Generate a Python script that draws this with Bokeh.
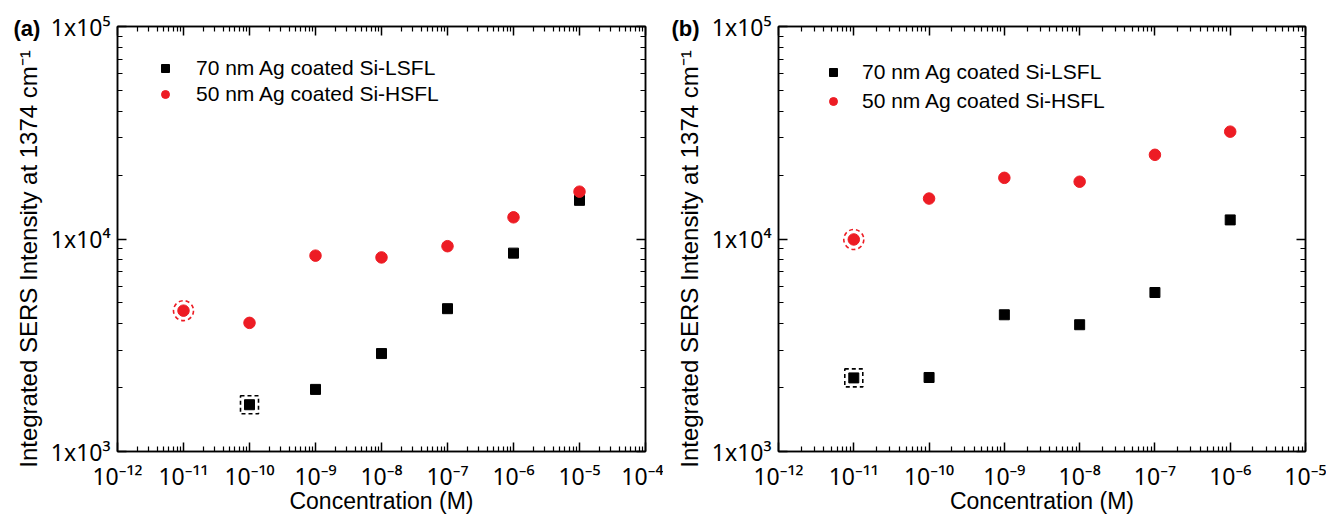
from bokeh.plotting import figure
from bokeh.models import LogAxis, FixedTicker, Legend, LegendItem, Label, Range1d
from bokeh.layouts import row
from bokeh.embed import file_html
from bokeh.resources import INLINE

# ---------------- data ----------------
conc_a_lsfl = [1e-10, 1e-9, 1e-8, 1e-7, 1e-6, 1e-5]
int_a_lsfl = [1660, 1960, 2890, 4700, 8580, 15200]
conc_a_hsfl = [1e-11, 1e-10, 1e-9, 1e-8, 1e-7, 1e-6, 1e-5]
int_a_hsfl = [4600, 4030, 8350, 8190, 9250, 12650, 16700]

conc_b = [1e-11, 1e-10, 1e-9, 1e-8, 1e-7, 1e-6]
int_b_lsfl = [2220, 2230, 4400, 3950, 5600, 12300]
int_b_hsfl = [9950, 15500, 19400, 18600, 24900, 32000]

x_exponents_a = [-12, -11, -10, -9, -8, -7, -6, -5, -4]
x_exponents_b = [-12, -11, -10, -9, -8, -7, -6, -5]
y_exponents = [3, 4, 5]
x_tick_base = "10"
y_tick_base = "1x10"

series_labels = ["70 nm Ag coated Si-LSFL", "50 nm Ag coated Si-HSFL"]
y_axis_title = "Integrated SERS Intensity at 1374 cm\u207b\u00b9" + "\u00a0" * 6
x_axis_title = "Concentration (M)"
panel_tags = ["(a)", "(b)"]

SUP = str.maketrans("-0123456789",
                    "\u207b\u2070\u00b9\u00b2\u00b3\u2074\u2075\u2076\u2077\u2078\u2079")
FONT = "Liberation Sans"
TICK_FONT = "Noto Sans"
RED = "#ED1C24"


def sup(n):
    return str(n).translate(SUP)


def minor_ticks(exps):
    out = []
    for e in exps[:-1]:
        for m in range(2, 10):
            out.append(m * 10.0 ** e)
    return out


def style_axis(ax, show_labels):
    ax.axis_line_width = 1.5
    ax.axis_line_color = "black"
    ax.major_tick_line_color = "black"
    ax.minor_tick_line_color = "black"
    ax.major_tick_line_width = 1.5
    ax.minor_tick_line_width = 1.2
    ax.major_tick_in = 9
    ax.major_tick_out = 0
    ax.minor_tick_in = 5
    ax.minor_tick_out = 0
    ax.axis_label_text_font = FONT
    ax.axis_label_text_font_style = "normal"
    ax.axis_label_text_color = "black"
    ax.major_label_text_font = TICK_FONT
    ax.major_label_text_color = "black"
    if show_labels:
        ax.major_label_text_font_size = "23px"
    else:
        ax.major_label_text_font_size = "1px"
        ax.major_label_text_alpha = 0
        ax.major_label_standoff = 1


def make_panel(tag, x_exps, lsfl_x, lsfl_y, hsfl_x, hsfl_y, b_left, b_right,
               leg_x, leg_y, leg_spacing, leg_standoff, tag_x):
    xmin, xmax = 10.0 ** x_exps[0], 10.0 ** x_exps[-1]
    ymin, ymax = 10.0 ** y_exponents[0], 10.0 ** y_exponents[-1]
    b_top, b_bottom = 26, 64
    p = figure(width=663, height=516, x_axis_type="log", y_axis_type="log",
               x_range=Range1d(xmin, xmax), y_range=Range1d(ymin, ymax),
               output_backend="svg", toolbar_location=None,
               min_border_left=b_left, min_border_right=b_right,
               min_border_top=b_top, min_border_bottom=b_bottom)
    p.grid.visible = False
    p.outline_line_color = "black"
    p.outline_line_width = 1.5
    p.background_fill_color = "white"
    p.border_fill_color = "white"

    xt = [10.0 ** e for e in x_exps]
    yt = [10.0 ** e for e in y_exponents]

    xa, ya = p.xaxis[0], p.yaxis[0]
    xa.ticker = FixedTicker(ticks=xt, minor_ticks=minor_ticks(x_exps))
    ya.ticker = FixedTicker(ticks=yt, minor_ticks=minor_ticks(y_exponents))
    xa.major_label_overrides = {v: x_tick_base + sup(e) for v, e in zip(xt, x_exps)}
    ya.major_label_overrides = {v: y_tick_base + sup(e) for v, e in zip(yt, y_exponents)}
    style_axis(xa, True)
    style_axis(ya, True)
    xa.axis_label = x_axis_title
    ya.axis_label = y_axis_title
    xa.axis_label_text_font_size = "23px"
    ya.axis_label_text_font_size = "24px"
    xa.major_label_standoff = 8
    ya.major_label_standoff = 7
    xa.axis_label_standoff = -7
    ya.axis_label_standoff = 6

    top = LogAxis(ticker=FixedTicker(ticks=xt, minor_ticks=minor_ticks(x_exps)))
    right = LogAxis(ticker=FixedTicker(ticks=yt, minor_ticks=minor_ticks(y_exponents)))
    style_axis(top, False)
    style_axis(right, False)
    p.add_layout(top, "above")
    p.add_layout(right, "right")

    r1 = p.scatter(lsfl_x, lsfl_y, marker="square", size=10, fill_color="black",
                   line_color="black")
    r2 = p.scatter(hsfl_x, hsfl_y, marker="circle", size=11.5, fill_color=RED,
                   line_color=RED)
    # dashed highlight around the lowest detected concentration
    p.scatter(lsfl_x[:1], lsfl_y[:1], marker="square", size=18, fill_color=None,
              line_color="black", line_width=1.6, line_dash="4 3")
    p.scatter(hsfl_x[:1], hsfl_y[:1], marker="circle", size=20, fill_color=None,
              line_color=RED, line_width=1.6, line_dash="4 3")

    legend = Legend(items=[LegendItem(label=series_labels[0], renderers=[r1]),
                           LegendItem(label=series_labels[1], renderers=[r2])],
                    location=(leg_x, leg_y))
    legend.border_line_alpha = 0
    legend.background_fill_alpha = 0
    legend.label_text_font = FONT
    legend.label_text_font_size = "21px"
    legend.label_text_color = "black"
    legend.glyph_width = 20
    legend.glyph_height = 22
    legend.label_height = 22
    legend.spacing = leg_spacing
    legend.padding = 0
    legend.margin = 0
    legend.label_standoff = leg_standoff
    p.add_layout(legend)

    # panel tag drawn in the top margin (outside the clipped frame)
    p.add_layout(Label(x=tag_x, y=b_top + 2, x_units="canvas", y_units="canvas",
                       text=tag, text_font=FONT, text_font_style="bold",
                       text_font_size="22px", text_baseline="middle",
                       text_color="black"), "above")
    return p


pa = make_panel(panel_tags[0], x_exponents_a, conc_a_lsfl, int_a_lsfl, conc_a_hsfl,
                int_a_hsfl, 117, 18, 38, 345, 2, 21, 13)
pb = make_panel(panel_tags[1], x_exponents_b, conc_b, int_b_lsfl, conc_b, int_b_hsfl,
                115, 21, 45, 338, 5, 19, 8)

layout = row(pa, pb)
open("out.html", "w").write(file_html(layout, INLINE))
